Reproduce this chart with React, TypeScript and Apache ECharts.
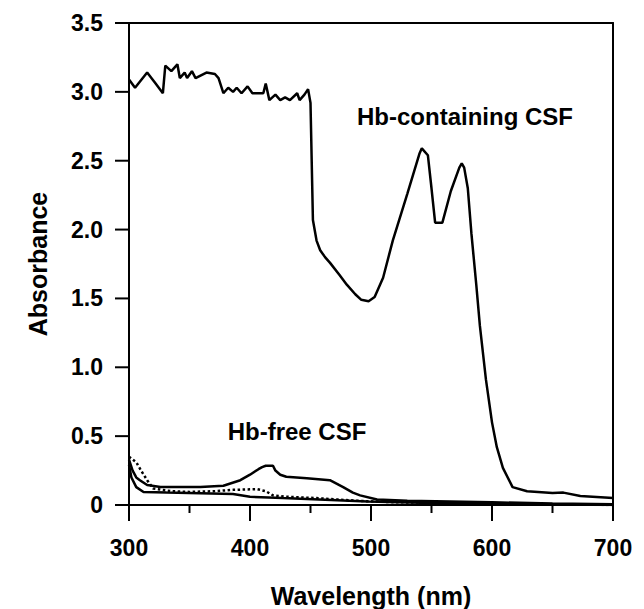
import React, { useEffect, useRef } from "react";
import * as echarts from "echarts";

// Hb-containing CSF
const hbWl = [300,305,315,322,328,330,335,340,342,346,348,352,355,364,371,374,378,382,386,389,393,398,402,411,413,416,421,425,429,433,439,441,445,448,450,452,455,458,462,466,474,480,487,492,498,503,510,518,530,540,542,547,550,553,559,566,573,575,577,580,583,587,590,595,600,604,609,617,629,650,659,673,700];
const hbAbs = [3.09,3.03,3.14,3.06,2.99,3.19,3.15,3.2,3.10,3.14,3.10,3.15,3.10,3.14,3.13,3.10,2.99,3.03,3.0,3.03,2.99,3.04,2.99,2.99,3.06,2.94,2.98,2.94,2.96,2.94,2.99,2.94,2.98,3.02,2.92,2.07,1.92,1.85,1.8,1.76,1.67,1.6,1.53,1.49,1.48,1.51,1.65,1.92,2.26,2.55,2.59,2.54,2.3,2.05,2.05,2.28,2.45,2.48,2.45,2.3,1.97,1.6,1.3,0.91,0.6,0.42,0.27,0.13,0.10,0.087,0.09,0.065,0.05];

// Hb-free CSF, upper solid trace
const freeAWl = [300,303,306,309,315,326,359,378,392,400,407,410,413,419,421,425,430,447,466,477,485,491,505,530,600,650,700];
const freeAAbs = [0.33,0.25,0.2,0.18,0.145,0.13,0.13,0.14,0.18,0.22,0.26,0.275,0.285,0.285,0.25,0.22,0.205,0.195,0.18,0.13,0.09,0.07,0.04,0.03,0.02,0.01,0.005];

// Hb-free CSF, lower solid trace
const freeBWl = [300,302,306,312,331,386,400,427,497,550,600,700];
const freeBAbs = [0.29,0.2,0.13,0.095,0.09,0.08,0.06,0.05,0.025,0.015,0.01,0.0];

// Hb-free CSF, dotted trace
const freeCWl = [300,306,310,315,320,335,350,370,386,406,413,419,430,455,490,520,600,700];
const freeCAbs = [0.35,0.31,0.25,0.18,0.12,0.1,0.095,0.1,0.11,0.115,0.1,0.07,0.06,0.05,0.03,0.02,0.01,0.0];

// axis ticks
const xTicks = [300, 400, 500, 600, 700];
const xMinorTicks = [350, 450, 550, 650];
const yTicks = [0, 0.5, 1.0, 1.5, 2.0, 2.5, 3.0, 3.5];

const zip = (a: number[], b: number[]) => a.map((v, i) => [v, b[i]]);

const FONT = "Liberation Sans, Arial, sans-serif";
const BLACK = "#000";

export default function App() {
  const ref = useRef<HTMLDivElement>(null);
  useEffect(() => {
    if (!ref.current) return;
    const chart = echarts.init(ref.current, undefined, { renderer: "svg" });
    const xMin = xTicks[0];
    const xMax = xTicks[xTicks.length - 1];
    const yMin = yTicks[0];
    const yMax = yTicks[yTicks.length - 1];
    const lineSeries = (name: string, data: number[][], type: string) => ({
      name,
      type: "line",
      data,
      xAxisIndex: 0,
      yAxisIndex: 0,
      showSymbol: false,
      symbol: "none",
      smooth: false,
      lineStyle: { color: BLACK, width: 2.5, type },
    });
    const frameX = {
      type: "value",
      position: "top",
      min: xMin,
      max: xMax,
      interval: 100,
      axisLine: { show: true, onZero: false, lineStyle: { color: BLACK, width: 2 } },
      axisTick: { show: false },
      axisLabel: { show: false },
      splitLine: { show: false },
    };
    const frameY = {
      type: "value",
      position: "right",
      min: yMin,
      max: yMax,
      interval: 0.5,
      axisLine: { show: true, onZero: false, lineStyle: { color: BLACK, width: 2 } },
      axisTick: { show: false },
      axisLabel: { show: false },
      splitLine: { show: false },
    };
    const labels = [
      {
        id: "lbl-hb",
        type: "text",
        x: 465,
        y: 116,
        style: {
          text: "Hb-containing CSF",
          fontFamily: FONT,
          fontWeight: "bold",
          fontSize: 24,
          fill: BLACK,
          textAlign: "center",
          textVerticalAlign: "middle",
        },
      },
      {
        id: "lbl-free",
        type: "text",
        x: 297,
        y: 431,
        style: {
          text: "Hb-free CSF",
          fontFamily: FONT,
          fontWeight: "bold",
          fontSize: 24,
          fill: BLACK,
          textAlign: "center",
          textVerticalAlign: "middle",
        },
      },
    ];
    chart.setOption({
      animation: false,
      backgroundColor: "#fff",
      grid: { left: 129, right: 31, top: 23, bottom: 104, outerBoundsMode: "none", containLabel: false },
      xAxis: [
        {
          type: "value",
          position: "bottom",
          min: xMin,
          max: xMax,
          interval: 100,
          name: "Wavelength (nm)",
          nameLocation: "middle",
          nameGap: 78,
          nameTextStyle: { fontFamily: FONT, fontWeight: "bold", fontSize: 25, color: BLACK },
          axisLine: { show: true, onZero: false, lineStyle: { color: BLACK, width: 2 } },
          axisTick: { show: false },
          splitLine: { show: false },
          axisLabel: { show: true, margin: 31, fontFamily: FONT, fontWeight: "bold", fontSize: 23, color: BLACK },
        },
        frameX,
      ],
      yAxis: [
        {
          type: "value",
          position: "left",
          min: yMin,
          max: yMax,
          interval: 0.5,
          name: "Absorbance",
          nameLocation: "middle",
          nameGap: 79,
          nameRotate: 90,
          nameTextStyle: { fontFamily: FONT, fontWeight: "bold", fontSize: 25, color: BLACK },
          axisLine: { show: true, onZero: false, lineStyle: { color: BLACK, width: 2 } },
          axisTick: { show: false },
          splitLine: { show: false },
          axisLabel: {
            show: true,
            margin: 26,
            fontFamily: FONT,
            fontWeight: "bold",
            fontSize: 23,
            color: BLACK,
            formatter: (v: number) => (v === 0 ? "0" : v.toFixed(1)),
          },
        },
        frameY,
      ],
      graphic: labels,
      series: [
        lineSeries("Hb-containing CSF", zip(hbWl, hbAbs), "solid"),
        lineSeries("Hb-free CSF A", zip(freeAWl, freeAAbs), "solid"),
        lineSeries("Hb-free CSF B", zip(freeBWl, freeBAbs), "solid"),
        lineSeries("Hb-free CSF C", zip(freeCWl, freeCAbs), "dotted"),
      ],
    });

    // tick marks placed through the axis scales
    const finder = { xAxisIndex: 0, yAxisIndex: 0 };
    const tickEls: any[] = [];
    const addX = (v: number, len: number, key: string) => {
      const p = chart.convertToPixel(finder, [v, yMin]) as number[];
      tickEls.push({
        id: key,
        type: "rect",
        z: 100,
        shape: { x: p[0] - 1, y: p[1], width: 2, height: len },
        style: { fill: BLACK },
        silent: true,
      });
    };
    const addY = (v: number, len: number, key: string) => {
      const p = chart.convertToPixel(finder, [xMin, v]) as number[];
      tickEls.push({
        id: key,
        type: "rect",
        z: 100,
        shape: { x: p[0] - len, y: p[1] - 1, width: len, height: 2 },
        style: { fill: BLACK },
        silent: true,
      });
    };
    xTicks.forEach((v, i) => addX(v, 16, "xt" + i));
    xMinorTicks.forEach((v, i) => addX(v, 8, "xm" + i));
    yTicks.forEach((v, i) => addY(v, 14, "yt" + i));
    chart.setOption({ graphic: [...labels, ...tickEls] });

    return () => chart.dispose();
  }, []);
  return (
    <div
      ref={ref}
      style={{ position: "fixed", left: 0, top: 0, width: 644, height: 609, background: "#fff" }}
    />
  );
}
